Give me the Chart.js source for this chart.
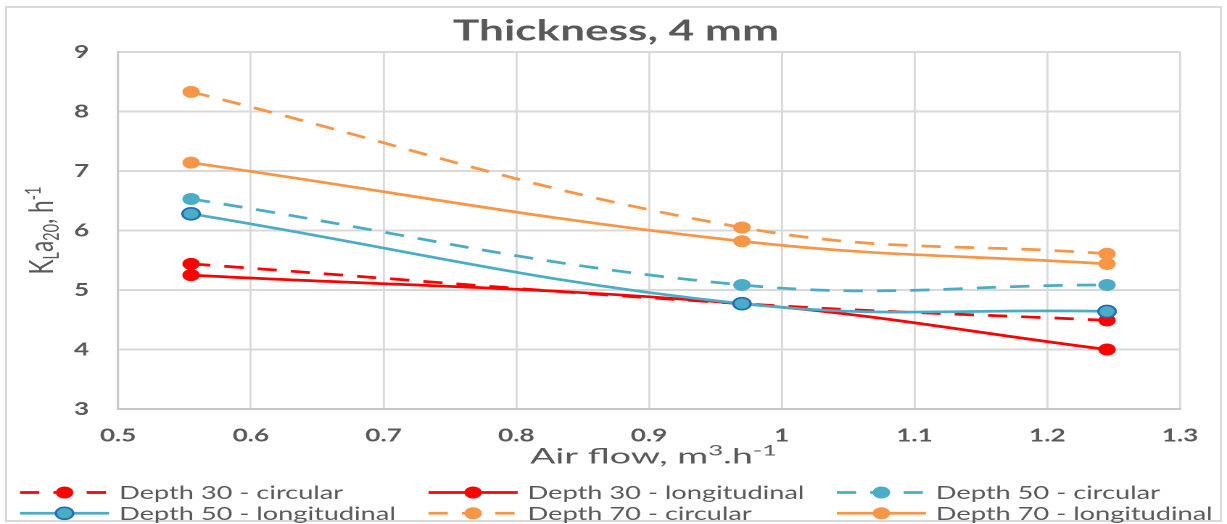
<!DOCTYPE html>
<html>
<head>
<meta charset="utf-8">
<script src="https://cdn.jsdelivr.net/npm/chart.js@4.4.1/dist/chart.umd.min.js"></script>
<style>
html, body { margin: 0; padding: 0; background: #ffffff; overflow: hidden; width: 1227px; height: 524px; }
#wrap { position: absolute; left: 0; top: 0; width: 846px; height: 524px; transform: scaleX(1.45035); transform-origin: 0 0; }
#frame { position: absolute; left: 5px; top: 6px; width: 1217px; height: 516px; border: 2px solid #d9d9d9; box-sizing: border-box; pointer-events: none; }
</style>
</head>
<body>
<div id="frame"></div>
<div id="wrap"><canvas id="chart" width="846" height="524"></canvas></div>
<script>
// ---------- data ----------
const airFlow = [0.555, 0.97, 1.245];
const depth30Circular     = [5.44, 4.77, 4.49];
const depth30Longitudinal = [5.25, 4.77, 4.00];
const depth50Circular     = [6.53, 5.085, 5.085];
const depth50Longitudinal = [6.28, 4.77, 4.64];
const depth70Circular     = [8.33, 6.05, 5.61];
const depth70Longitudinal = [7.14, 5.82, 5.44];

const seriesLabels = [
  'Depth 30 - circular', 'Depth 30 - longitudinal', 'Depth 50 - circular',
  'Depth 50 - longitudinal', 'Depth 70 - circular', 'Depth 70 - longitudinal'
];
const seriesValues = [
  depth30Circular, depth30Longitudinal, depth50Circular,
  depth50Longitudinal, depth70Circular, depth70Longitudinal
];
const xTickLabels = ['0.5', '0.6', '0.7', '0.8', '0.9', '1', '1.1', '1.2', '1.3'];
const yTickLabels = ['3', '4', '5', '6', '7', '8', '9'];
const chartTitle = 'Thickness, 4 mm';

// ---------- styles ----------
const seriesColors = ['#ff0000', '#ff0000', '#4bacc6', '#4bacc6', '#f79646', '#f79646'];
const seriesDashed = [true, false, true, false, true, false];
const markerBorder = ['#ff0000', '#ff0000', '#4bacc6', '#1f6cb8', '#f79646', '#f79646'];
const markerBorderWidth = [0, 0, 0, 1.6, 0, 0];
const DASH = [13.3, 9.7];
const TEXT = '#595959';
const FONT = 'Lato, "Open Sans", sans-serif';

const datasets = seriesValues.map((vals, i) => ({
  label: seriesLabels[i],
  data: vals.map((v, j) => ({ x: airFlow[j], y: v })),
  borderColor: seriesColors[i],
  backgroundColor: seriesColors[i],
  borderWidth: 2.75,
  borderDash: seriesDashed[i] ? DASH : [],
  tension: 0.4,
  fill: false,
  pointRadius: 6,
  pointHoverRadius: 6,
  pointBackgroundColor: seriesColors[i],
  pointBorderColor: markerBorder[i],
  pointBorderWidth: markerBorderWidth[i],
  order: -i
}));

// rich text helper: parts [{t, s (size factor), dy (em shift)}]
function richWidth(ctx, parts, size, weight) {
  let w = 0;
  for (const p of parts) {
    ctx.font = `${weight} ${size * p.s}px ${FONT}`;
    w += ctx.measureText(p.t).width;
  }
  return w;
}
function drawRich(ctx, parts, cx, baseline, size, weight, targetWidth) {
  const w = richWidth(ctx, parts, size, weight);
  const sx = targetWidth ? targetWidth / w : 1;
  ctx.save();
  ctx.translate(cx - w * sx / 2, baseline);
  ctx.scale(sx, 1);
  ctx.fillStyle = TEXT;
  ctx.textAlign = 'left';
  ctx.textBaseline = 'alphabetic';
  let x = 0;
  for (const p of parts) {
    ctx.font = `${weight} ${size * p.s}px ${FONT}`;
    ctx.fillText(p.t, x, p.dy * size);
    x += ctx.measureText(p.t).width;
  }
  ctx.restore();
}

const decorPlugin = {
  id: 'decor',
  afterDraw(chart) {
    const ctx = chart.ctx;
    // title
    drawRich(ctx, [{ t: chartTitle, s: 1, dy: 0 }], 424.7, 40.7, 29, 'bold', 224.8);
    // x axis title
    const xt = [
      { t: 'Air flow, m', s: 1, dy: 0 },
      { t: '3', s: 0.68, dy: -0.36 },
      { t: '.h', s: 1, dy: 0 },
      { t: '-1', s: 0.68, dy: -0.36 }
    ];
    const ca = chart.chartArea;
    drawRich(ctx, xt, 450.6, 463.3, 21, 'normal', 170.3);
    // y axis title (rotated)
    const yt = [
      { t: 'K', s: 1, dy: 0 },
      { t: 'L', s: 0.65, dy: 0.18 },
      { t: 'a', s: 1, dy: 0 },
      { t: '20', s: 0.65, dy: 0.18 },
      { t: ', h', s: 1, dy: 0 },
      { t: '-1', s: 0.65, dy: -0.38 }
    ];
    ctx.save();
    ctx.translate(36.5, (ca.top + ca.bottom) / 2);
    ctx.rotate(-Math.PI / 2);
    drawRich(ctx, yt, 0, 0, 23, 'normal', 88);
    ctx.restore();

    // legend (3 columns x 2 rows)
    const colX = [13.8, 295.5, 577];
    const rowY = [492.5, 513.3];
    ctx.font = `normal 18.5px ${FONT}`;
    const legSx = 154.5 / ctx.measureText(seriesLabels[0]).width;
    chart.data.datasets.forEach((ds, i) => {
      const x0 = colX[i % 3];
      const y0 = rowY[Math.floor(i / 3)];
      ctx.save();
      ctx.strokeStyle = ds.borderColor;
      ctx.lineWidth = ds.borderWidth;
      ctx.setLineDash(ds.borderDash);
      ctx.lineDashOffset = 0;
      ctx.beginPath();
      ctx.moveTo(x0, y0);
      ctx.lineTo(x0 + 61.4, y0);
      ctx.stroke();
      ctx.setLineDash([]);
      ctx.beginPath();
      ctx.arc(x0 + 30.7, y0, ds.pointRadius, 0, Math.PI * 2);
      ctx.fillStyle = ds.pointBackgroundColor;
      ctx.fill();
      if (ds.pointBorderWidth > 0) {
        ctx.lineWidth = ds.pointBorderWidth;
        ctx.strokeStyle = ds.pointBorderColor;
        ctx.stroke();
      }
      ctx.restore();
      ctx.save();
      ctx.translate(x0 + 68.3, y0 + 6.6);
      ctx.scale(legSx, 1);
      ctx.font = `normal 18.5px ${FONT}`;
      ctx.fillStyle = TEXT;
      ctx.textAlign = 'left';
      ctx.textBaseline = 'alphabetic';
      ctx.fillText(ds.label, 0, 0);
      ctx.restore();
    });
  }
};

new Chart(document.getElementById('chart'), {
  type: 'line',
  data: { datasets },
  plugins: [decorPlugin],
  options: {
    responsive: false,
    animation: false,
    devicePixelRatio: 2,
    layout: { padding: { top: 52, left: 0, right: 32.4, bottom: 0 } },
    plugins: {
      legend: { display: false },
      title: { display: false },
      tooltip: { enabled: false }
    },
    scales: {
      x: {
        type: 'linear',
        min: 0.5,
        max: 1.3,
        afterFit(scale) { scale.height = 115; },
        afterBuildTicks(scale) {
          scale.ticks = xTickLabels.map(v => ({ value: parseFloat(v) }));
        },
        ticks: {
          callback: (v, i) => xTickLabels[i],
          padding: 15.7,
          color: TEXT,
          font: { family: FONT, size: 18, weight: 'bold' },
          maxRotation: 0,
          autoSkip: false
        },
        grid: { color: '#d9d9d9', lineWidth: 1.4, drawTicks: false },
        border: { display: true, color: '#c8c8c8', width: 2 }
      },
      y: {
        type: 'linear',
        min: 3,
        max: 9,
        afterFit(scale) { scale.width = 81.4; },
        afterBuildTicks(scale) {
          scale.ticks = yTickLabels.map(v => ({ value: parseFloat(v) }));
        },
        ticks: {
          callback: (v, i) => yTickLabels[i],
          padding: 20,
          color: TEXT,
          font: { family: FONT, size: 18, weight: 'bold' },
          autoSkip: false
        },
        grid: { color: '#d9d9d9', lineWidth: 2, drawTicks: false },
        border: { display: true, color: '#c8c8c8', width: 1.6 }
      }
    }
  }
});
</script>
</body>
</html>
